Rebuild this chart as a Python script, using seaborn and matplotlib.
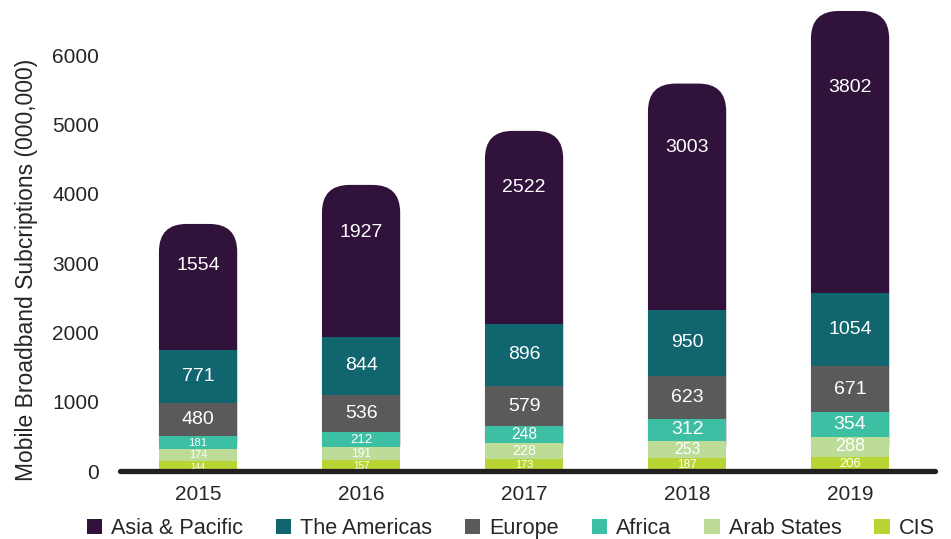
import pandas as pd
import matplotlib
matplotlib.use("Agg")
import matplotlib.pyplot as plt
import seaborn as sns
from matplotlib.patches import FancyBboxPatch, Patch

# data (000,000 subscriptions), stacked bottom -> top
years = ["2015", "2016", "2017", "2018", "2019"]
regions = ["CIS", "Arab States", "Africa", "Europe", "The Americas", "Asia & Pacific"]
cis = [144, 157, 173, 187, 206]
arab_states = [174, 191, 228, 253, 288]
africa = [181, 212, 248, 312, 354]
europe = [480, 536, 579, 623, 671]
americas = [771, 844, 896, 950, 1054]
asia_pacific = [1554, 1927, 2522, 3003, 3802]

colors = {
    "CIS": "#b9d534",
    "Arab States": "#bcdc98",
    "Africa": "#3dbfa3",
    "Europe": "#5a5a5a",
    "The Americas": "#10656f",
    "Asia & Pacific": "#31123b",
}
legend_order = ["Asia & Pacific", "The Americas", "Europe", "Africa", "Arab States", "CIS"]

series = [cis, arab_states, africa, europe, americas, asia_pacific]
rows = []
for region, vals in zip(regions, series):
    for yr, v in zip(years, vals):
        rows.append({"Year": yr, "Region": region, "Value": v})
df = pd.DataFrame(rows)
df["Top"] = df.groupby("Year")["Value"].cumsum()
df["Bottom"] = df["Top"] - df["Value"]

sns.set_style("white")
plt.rcParams["font.family"] = ["Liberation Sans", "DejaVu Sans"]
text_color = "#262626"

W, H, DPI = 9.51, 5.39, 100
fig, ax = plt.subplots(figsize=(W, H), dpi=DPI)
L, R, B, T = 0.126, 0.983, 0.126, 0.988
fig.subplots_adjust(left=L, right=R, bottom=B, top=T)
XLIM = (-0.48, 4.52)
YLIM = (0, 6700)
BAR_W = 0.48
CAP = 260        # extra height of the rounded cap (data units)
ROUND = 0.17     # corner radius, x data units

# aspect so rounded corners look circular on screen
px_per_x = W * DPI * (R - L) / (XLIM[1] - XLIM[0])
px_per_y = H * DPI * (T - B) / (YLIM[1] - YLIM[0])
aspect = px_per_x / px_per_y

# draw tallest cumulative layer first, lower layers on top
for i, region in enumerate(reversed(regions)):
    sub = df[df["Region"] == region]
    n_before = len(ax.patches)
    sns.barplot(data=sub, x="Year", y="Top", order=years, color=colors[region],
                width=BAR_W, saturation=1, errorbar=None, ax=ax, linewidth=0)
    if i == 0:
        # rounded top for the top segment
        for p in list(ax.patches[n_before:]):
            x, w, h = p.get_x(), p.get_width(), p.get_height()
            p.remove()
            ax.add_patch(FancyBboxPatch((x, 0), w, h + CAP,
                                        boxstyle=f"round,pad=0,rounding_size={ROUND}",
                                        mutation_aspect=aspect,
                                        fc=colors[region], ec="none"))

# value labels; shrink the font where a segment is too thin for it
for _, r in df.iterrows():
    i = years.index(r["Year"])
    frac = 0.78 if r["Region"] == "Asia & Pacific" else 0.5
    y = r["Bottom"] + frac * r["Value"]
    seg_px = r["Value"] * px_per_y
    fs = min(14, seg_px / 1.1 / (DPI / 72))
    ax.text(i, y, str(r["Value"]), ha="center", va="center", color="white", fontsize=fs)

ax.axhline(0, color="#231f20", lw=3.8, zorder=5, clip_on=False)
ax.set_xlim(*XLIM)
ax.set_ylim(*YLIM)
ax.set_yticks(range(0, 6001, 1000))
sns.despine(ax=ax, left=True, bottom=True)
ax.tick_params(axis="y", length=0, pad=15, labelsize=15, labelcolor=text_color)
ax.tick_params(axis="x", length=0, pad=10, labelsize=15, labelcolor=text_color)
ax.set_xlabel("")
ax.set_ylabel("Mobile Broadband Subcriptions (000,000)", fontsize=16.5, color=text_color)
ax.yaxis.set_label_coords(-0.101, 0.433)

handles = [Patch(fc=colors[r], ec="none") for r in legend_order]
fig.legend(handles, legend_order, loc="lower center", bbox_to_anchor=(0.537, -0.036),
           ncol=6, frameon=False, fontsize=15.6, handlelength=0.7, handleheight=0.7,
           handletextpad=0.42, columnspacing=1.52, labelcolor=text_color)

fig.savefig("out.png", dpi=DPI)
